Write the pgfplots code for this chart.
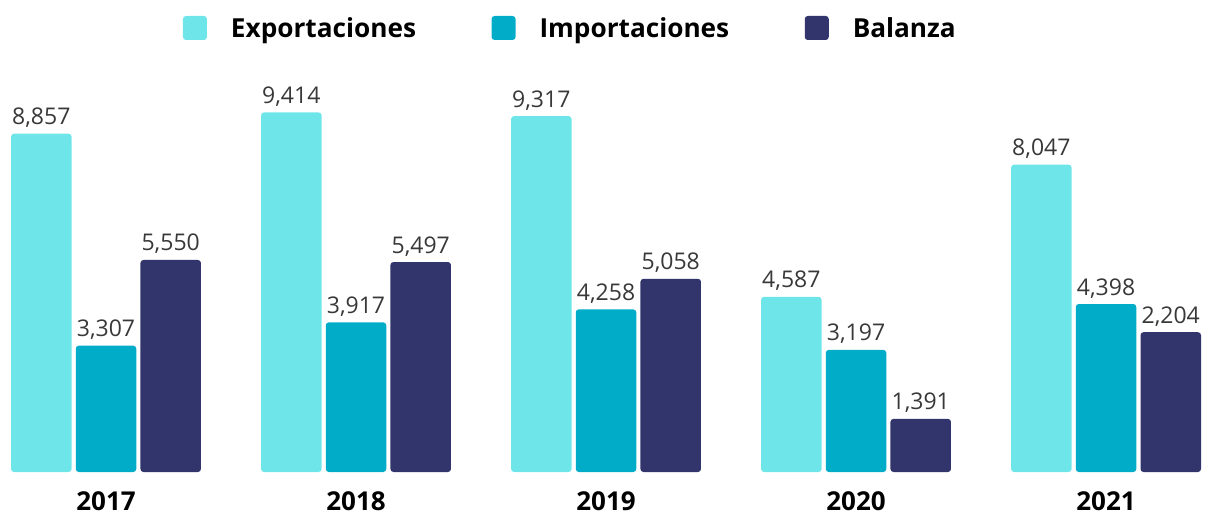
\documentclass[border=0pt]{standalone}
\usepackage{fontspec}
\setmainfont{Open Sans}
\usepackage{pgfplots}
\pgfplotsset{compat=1.18}
\definecolor{cexp}{HTML}{6EE6E9}
\definecolor{cimp}{HTML}{00ACC8}
\definecolor{cbal}{HTML}{32356C}
\pgfplotsset{sq/.style={legend image code/.code={\fill[##1] (0bp,-2bp) rectangle (24bp,22bp);}}}
\begin{document}
\begin{tikzpicture}
\useasboundingbox (0,-42bp) rectangle (1214bp,472bp);
\begin{axis}[
  scale only axis, width=1214bp, height=430bp,
  xmin=-0.424, xmax=4.432, ymin=0, ymax=11257,
  axis line style={draw=none}, ytick=\empty, xtick=data,
  xticklabels={2017,2018,2019,2020,2021},
  major tick length=0pt,
  xticklabel style={anchor=base, yshift=-38bp, font=\fontsize{26bp}{30bp}\selectfont\bfseries},
  ybar=4.2bp, bar width=60.5bp,
  clip=false,
  nodes near coords,
  nodes near coords style={anchor=base, yshift=9bp, font=\fontsize{23bp}{28bp}\selectfont, text=black!78},
  /pgf/number format/1000 sep={,},
  /pgf/number format/assume math mode=true,
  legend columns=3,
  legend style={draw=none, fill=none, at={(0.1507,1.0605)}, anchor=north west,
    inner sep=0pt, outer sep=0pt, font=\fontsize{26.2bp}{32bp}\selectfont\bfseries,
    cells={anchor=base west, inner sep=0pt},
    /tikz/every odd column/.append style={column sep=22bp},
    /tikz/every even column/.append style={column sep=73.5bp}},
]
\addplot[fill=cexp, draw=none, rounded corners=3bp, sq] coordinates {(0,8857) (1,9414) (2,9317) (3,4587) (4,8047)};
\addplot[fill=cimp, draw=none, rounded corners=3bp, sq] coordinates {(0,3307) (1,3917) (2,4258) (3,3197) (4,4398)};
\addplot[fill=cbal, draw=none, rounded corners=3bp, sq, point meta=explicit symbolic] coordinates {(0,5550) [5,550] (1,5497) [5,497] (2,5058) [5,058] (3,1391) [1,391] (4,3660) [2,204]};
\legend{Exportaciones, Importaciones, Balanza}
\end{axis}
\end{tikzpicture}
\end{document}
